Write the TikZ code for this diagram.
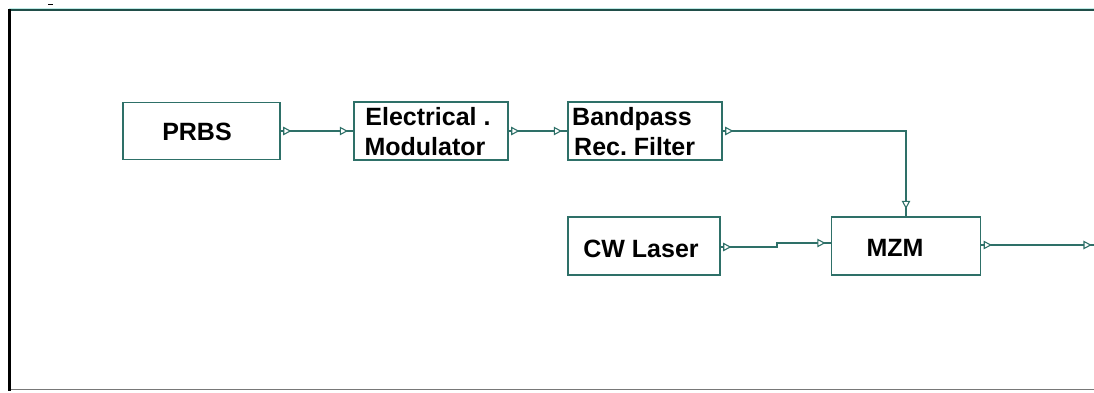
\documentclass[tikz,border=0pt]{standalone}
\usepackage{fontspec}
\setmainfont{Liberation Sans}
\frenchspacing
\definecolor{teal1}{RGB}{46,112,104}
\definecolor{cyanl}{RGB}{190,235,230}
\definecolor{grayf}{RGB}{120,120,120}
\tikzset{
  blk/.style={draw=teal1, line width=1.4pt, inner sep=0pt, fill=white},
  lbl/.style={inner sep=0pt, anchor=base, font=\bfseries\fontsize{25}{29}\selectfont, text=black},
  wire/.style={draw=teal1, line width=1.3pt},
  outport/.pic={\draw[teal1, line width=1.1pt, fill=white] (3,-3.5) -- (3,3.5) -- (9.5,0) -- cycle;},
  inport/.pic={\draw[teal1, line width=1.1pt, fill=white] (-13,-3.5) -- (-13,3.5) -- (-6.5,0) -- cycle;},
  inportdown/.pic={\draw[teal1, line width=1.1pt, fill=white] (-3.5,-15) -- (3.5,-15) -- (0,-8.5) -- cycle;}
}
\begin{document}
\begin{tikzpicture}[x=1pt,y=-1pt]
\useasboundingbox (0,0) rectangle (1094,392);
% frame
\draw[cyanl, line width=1pt] (9,8) -- (1094,8);
\draw[teal1!70!black, line width=1.5pt] (9,9.8) -- (1094,9.8);
\draw[grayf, line width=1.5pt] (9,389.5) -- (1094,389.5);
\draw[black, line width=2.6pt] (9.5,9) -- (9.5,391);
\draw[black, line width=1pt] (48,4.5) -- (53,4.5);
% boxes
\node[blk, minimum width=157pt, minimum height=57pt] (prbs) at (201.5,131) {};
\node[blk, minimum width=154pt, minimum height=58pt] (elec) at (431,131) {};
\node[blk, minimum width=154pt, minimum height=58pt] (bp) at (645,131) {};
\node[blk, minimum width=152pt, minimum height=58pt] (cw) at (644,246) {};
\node[blk, minimum width=149pt, minimum height=58pt] (mzm) at (906,246) {};
% labels
\node[lbl] (tprbs) at (197,140) {PRBS};
\node[lbl] (telec1) at (428,125) {Electrical .};
\node[lbl] (telec2) at (425,155) {Modulator};
\node[lbl, anchor=base west] (tbp1) at (572,125) {Bandpass};
\node[lbl, anchor=base west] (tbp2) at (574,155) {Rec. Filter};
\node[lbl] (tcw) at (641,257) {CW Laser};
\node[lbl] (tmzm) at (895,256) {MZM};
% connectors
\coordinate (jog1) at (777,247);
\coordinate (jog2) at (777,243);
\coordinate (out) at (1094,245);
\draw[wire] (prbs.east) -- (elec.west);
\draw[wire] (elec.east) -- (bp.west);
\draw[wire] (bp.east) -| (mzm.north);
\draw[wire] (cw.east |- jog1) -- (jog1) -- (jog2) -- (mzm.west |- jog2);
\draw[wire] (mzm.east |- out) -- (out);
% ports
\pic at (prbs.east) {outport};
\pic at (elec.west) {inport};
\pic at (elec.east) {outport};
\pic at (bp.west) {inport};
\pic at (bp.east) {outport};
\pic at (mzm.north) {inportdown};
\pic at (cw.east |- jog1) {outport};
\pic at (mzm.west |- jog2) {inport};
\pic at (mzm.east |- out) {outport};
\pic at ([xshift=3pt]out) {inport};
\end{tikzpicture}
\end{document}
